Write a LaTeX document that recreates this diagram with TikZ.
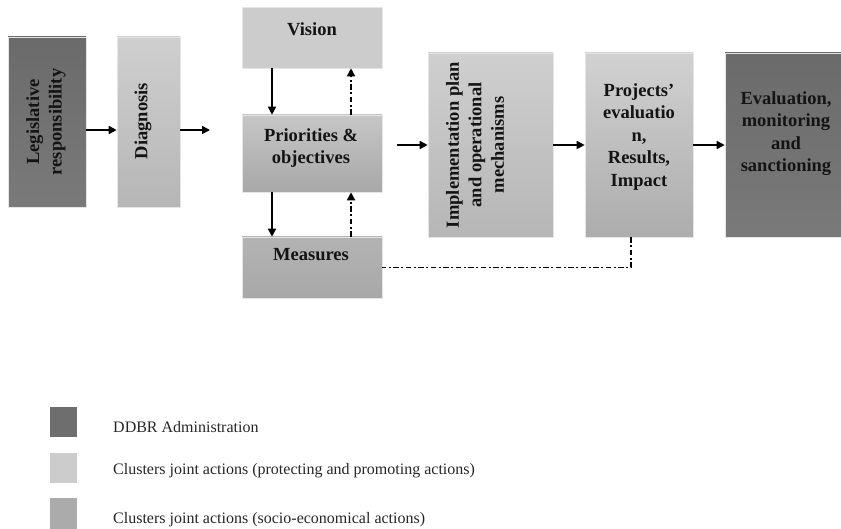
\documentclass[tikz,border=0pt]{standalone}
\usepackage{fontspec}
\setmainfont{Liberation Serif}
\usetikzlibrary{arrows.meta}
\definecolor{darkbox}{HTML}{6E6E6E}
\definecolor{lightA}{HTML}{CFCFCF}
\definecolor{lightB}{HTML}{B6B6B6}
\definecolor{midA}{HTML}{C6C6C6}
\definecolor{midB}{HTML}{A8A8A8}
\definecolor{legmid}{HTML}{ABABAB}
\definecolor{legl}{HTML}{CCCCCC}
\tikzset{
  box/.style={draw=gray!20, line width=0.6pt, inner sep=0pt},
  darkfill/.style={top color=darkbox!97!black, bottom color=darkbox!92!white},
  lightfill/.style={top color=lightA, bottom color=lightB},
  midfill/.style={top color=midA, bottom color=midB},
  btxt/.style={font=\fontsize{18.5}{22.5}\selectfont\bfseries, align=center, inner sep=0pt, text=black!92},
  ltxt/.style={font=\fontsize{16}{19}\selectfont, anchor=base west, inner sep=0pt, text=black!85},
  arr/.style={line width=1.6pt, -{Triangle[length=8pt,width=8pt]}},
  dd/.style={line width=1.5pt, dash pattern=on 5.5pt off 2.5pt on 2pt off 2.5pt},
  ddarr/.style={dd, -{Triangle[length=8pt,width=8pt]}},
}
\begin{document}
\begin{tikzpicture}[x=1pt,y=-1pt]
\useasboundingbox (0,0) rectangle (841,529);
% boxes
\node[box, darkfill, minimum width=78pt, minimum height=170pt] (leg) at (47,122) {};
\node[box, lightfill, minimum width=63pt, minimum height=170pt] (diag) at (148.5,122) {};
\node[box, fill=legl, minimum width=140pt, minimum height=61pt] (vision) at (312,37.5) {};
\node[box, midfill, minimum width=140pt, minimum height=77pt] (prio) at (312,153.5) {};
\node[box, top color=legmid!90!white, bottom color=midB, minimum width=140pt, minimum height=61pt] (meas) at (312,267.5) {};
\node[box, lightfill, minimum width=125pt, minimum height=184pt] (impl) at (490.5,145) {};
\node[box, top color=lightA!95!white, bottom color=midB!95!white, minimum width=108pt, minimum height=184pt] (proj) at (639,145) {};
\node[box, darkfill, minimum width=116pt, minimum height=184pt] (eval) at (783,145) {};
% texts
\node[btxt, rotate=90] (tleg) at (46,122) {Legislative\\responsibility};
\node[btxt, rotate=90] (tdiag) at (143,121) {Diagnosis};
\node[btxt, anchor=north] (tvision) at (312,22) {Vision};
\node[btxt, anchor=north] (tprio) at (311,128) {Priorities \&\\objectives};
\node[btxt, anchor=north] (tmeas) at (311,248) {Measures};
\node[btxt, rotate=90] (timpl) at (475,145) {Implementation plan\\and operational\\mechanisms};
\node[btxt, anchor=north] (tproj) at (639,83) {Projects’\\evaluatio\\n,\\Results,\\Impact};
\node[btxt, anchor=north] (teval) at (786,91) {Evaluation,\\monitoring\\and\\sanctioning};
% arrows
\coordinate (dend) at (210,130);
\draw[arr] ([yshift=-8pt]leg.east) -- ([yshift=-8pt]diag.west);
\draw[arr] (diag.east |- dend) -- (dend);
\draw[arr, shorten <=15pt] (prio.east |- impl.west) -- (impl.west);
\draw[arr] (impl.east) -- (proj.west);
\draw[arr] (proj.east) -- (eval.west);
\draw[arr] ([xshift=-40pt]vision.south) -- ([xshift=-40pt]prio.north);
\draw[arr] ([xshift=-40pt]prio.south) -- ([xshift=-40pt]meas.north);
\draw[ddarr] ([xshift=39pt]meas.north) -- ([xshift=39pt]prio.south);
\draw[ddarr] ([xshift=39pt]prio.north) -- ([xshift=39pt]vision.south);
\draw[dd] ([xshift=-8pt]proj.south) |- (meas.east);
% legend
\node[box, draw=none, fill=darkbox, minimum width=27pt, minimum height=30pt] (lg1) at (63.5,422) {};
\node[box, draw=none, fill=legl, minimum width=27pt, minimum height=30pt] (lg2) at (63.5,468) {};
\node[box, draw=none, fill=legmid, minimum width=27pt, minimum height=31pt] (lg3) at (63.5,513.5) {};
\node[ltxt] (lt1) at (113,432) {DDBR Administration};
\node[ltxt] (lt2) at (113,474) {Clusters joint actions (protecting and promoting actions)};
\node[ltxt] (lt3) at (113,523) {Clusters joint actions (socio-economical actions)};
\end{tikzpicture}
\end{document}
